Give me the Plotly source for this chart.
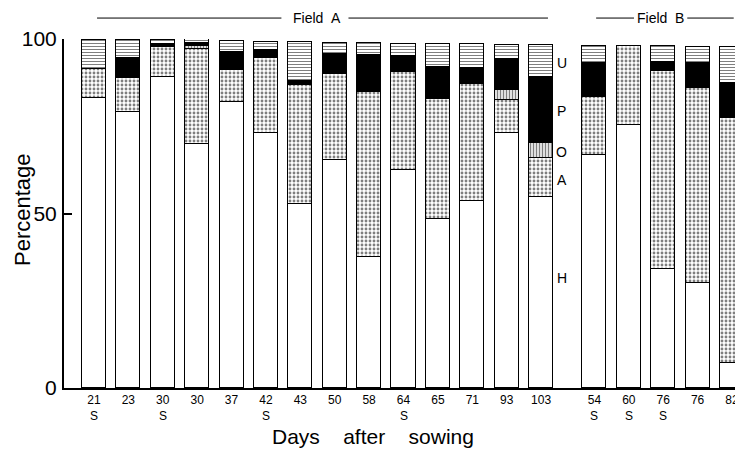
import plotly.graph_objects as go

# ---- data ----
days = ["21", "23", "30", "30", "37", "42", "43", "50", "58", "64", "65", "71", "93", "103",
        "54", "60", "76", "76", "82"]
sown = ["S", "", "S", "", "", "S", "", "", "", "S", "", "", "", "",
        "S", "S", "S", "", ""]
H = [83.1, 79.1, 89.0, 69.9, 82.0, 73.0, 52.7, 65.3, 37.5, 62.6, 48.4, 53.6, 73.1, 54.7,
     66.8, 75.4, 34.1, 30.1, 7.2]
A = [8.3, 9.7, 8.7, 27.2, 9.1, 21.6, 34.0, 24.6, 47.3, 28.0, 34.4, 33.5, 9.5, 11.2,
     16.6, 22.6, 56.7, 55.9, 70.2]
O = [0, 0, 0, 0.9, 0, 0, 0, 0, 0, 0, 0, 0, 2.9, 4.3,
     0, 0, 0, 0, 0]
P = [0, 5.7, 0.8, 0.9, 5.1, 2.3, 1.4, 5.7, 10.6, 4.6, 9.1, 4.6, 8.9, 18.9,
     9.7, 0, 2.6, 7.2, 10.0]
U = [8.3, 5.1, 1.2, 1.1, 3.2, 2.3, 10.9, 3.2, 3.4, 3.4, 6.7, 6.9, 3.9, 9.2,
     4.9, 0, 4.6, 4.6, 10.3]
series_names = ["H", "A", "O", "P", "U"]
y_ticks = [0, 50, 100]

# ---- layout helpers ----
n_field_a = 14
gap = 0.55
xpos = [i if i < n_field_a else i + gap for i in range(len(days))]

FONT = "Liberation Sans, Arial, sans-serif"

styles = {
    "H": dict(color="white", pattern=None),
    "A": dict(color="white", pattern=dict(shape=".", fgcolor="black", bgcolor="white", size=4, solidity=0.4)),
    "O": dict(color="white", pattern=dict(shape="|", fgcolor="black", bgcolor="white", size=3, solidity=0.5)),
    "P": dict(color="black", pattern=None),
    "U": dict(color="white", pattern=dict(shape="-", fgcolor="black", bgcolor="white", size=3, solidity=0.35)),
}

fig = go.Figure()
for name, vals in zip(series_names, [H, A, O, P, U]):
    st = styles[name]
    marker = dict(color=st["color"], line=dict(color="black", width=1.2))
    if st["pattern"]:
        marker["pattern"] = st["pattern"]
    fig.add_trace(go.Bar(x=xpos, y=vals, name=name, width=0.7, marker=marker,
                         showlegend=False))

annotations = []
# S markers under tick labels
for x, s in zip(xpos, sown):
    if s:
        annotations.append(dict(x=x, y=-0.079, xref="x", yref="paper", text=s,
                                showarrow=False, font=dict(family=FONT, size=12, color="black"),
                                yanchor="middle"))
# series labels beside the 103-day bar
label_y = {"U": 93.1, "P": 79.4, "O": 67.6, "A": 59.6, "H": 31.5}
for name in ["U", "P", "O", "A", "H"]:
    annotations.append(dict(x=xpos[n_field_a - 1] + 0.6, y=label_y[name], xref="x", yref="y",
                            text=name, showarrow=False, xanchor="center",
                            font=dict(family=FONT, size=14, color="black")))
# axis titles
annotations.append(dict(x=(373 - 64) / 679, y=-0.14, xref="paper", yref="paper",
                        text="Days\u00a0\u00a0\u00a0\u00a0after\u00a0\u00a0\u00a0\u00a0sowing",
                        showarrow=False, font=dict(family=FONT, size=21, color="black"),
                        yanchor="middle"))
annotations.append(dict(x=(22 - 64) / 679, y=(388 - 210) / 349, xref="paper", yref="paper",
                        text="Percentage", textangle=-90,
                        showarrow=False, font=dict(family=FONT, size=22, color="black"),
                        xanchor="center", yanchor="middle"))
# field headers
annotations.append(dict(x=6.47, y=1.06, xref="x", yref="paper", text="Field\u00a0\u00a0A",
                        showarrow=False, font=dict(family=FONT, size=14, color="black"),
                        yanchor="middle"))
annotations.append(dict(x=16.46, y=1.06, xref="x", yref="paper", text="Field\u00a0\u00a0B",
                        showarrow=False, font=dict(family=FONT, size=14, color="black"),
                        yanchor="middle"))

shapes = []
for x0, x1 in [(0.09, 5.45), (7.4, 13.2), (14.6, 15.7), (17.25, 18.6)]:
    shapes.append(dict(type="line", xref="x", yref="paper", x0=x0, x1=x1, y0=1.06, y1=1.06,
                       line=dict(color="black", width=1)))

# page body has an 8px margin, so the figure is 8px smaller and margins shifted
fig.update_layout(
    width=735, height=444,
    margin=dict(l=56, r=0, t=31, b=64, autoexpand=False),
    paper_bgcolor="white", plot_bgcolor="white",
    barmode="stack", bargap=0,
    annotations=annotations, shapes=shapes,
    font=dict(family=FONT, color="black"),
    xaxis=dict(range=[-0.871, 18.87], tickvals=xpos, ticktext=days, automargin=False,
               showline=True, linecolor="black", linewidth=2, ticks="",
               showgrid=False, zeroline=False, tickfont=dict(family=FONT, size=12),
               ticklabelstandoff=0),
    yaxis=dict(range=[0, 100], tickvals=y_ticks, ticktext=[str(v) for v in y_ticks],
               automargin=False,
               showline=True, linecolor="black", linewidth=2, ticks="inside",
               ticklen=8, tickwidth=2, tickcolor="black", showgrid=False, zeroline=False,
               tickfont=dict(family=FONT, size=21), ticklabelstandoff=1),
)

fig.write_html("out.html")
